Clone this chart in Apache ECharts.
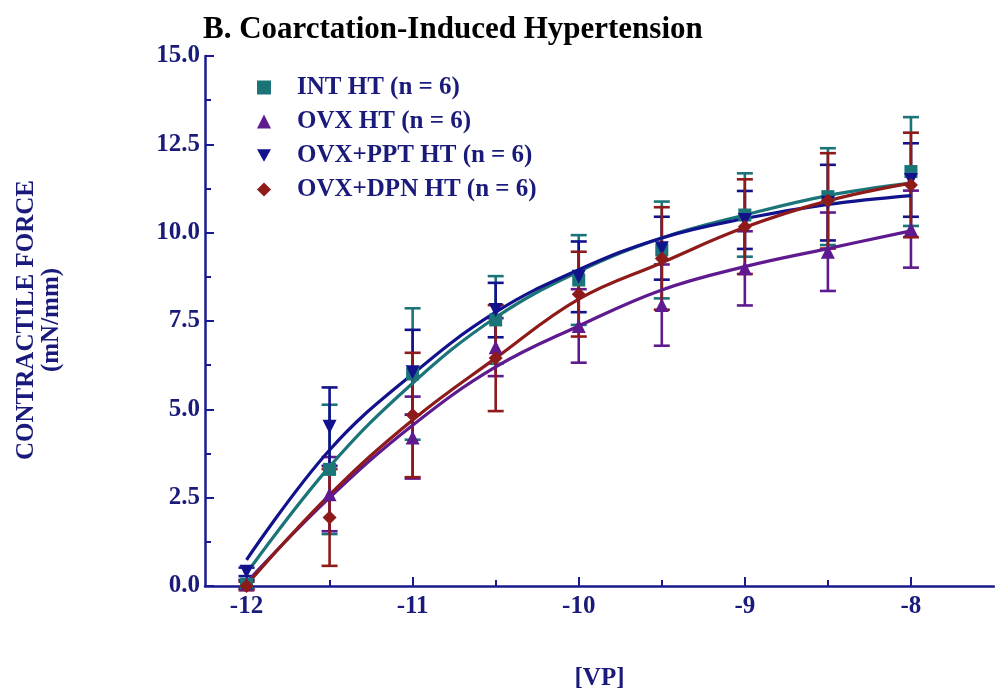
<!DOCTYPE html>
<html><head><meta charset="utf-8">
<script src="https://cdn.jsdelivr.net/npm/echarts@6/dist/echarts.min.js"></script>
<style>html,body{margin:0;padding:0;background:#fff}#c{width:995px;height:694px}</style>
</head><body><div id="c"></div>
<script>
// ---- data ----
const xValues = [-12, -11.5, -11, -10.5, -10, -9.5, -9, -8.5, -8];
const xMajorTicks = [-12, -11, -10, -9, -8];
const xMinorTicks = [-11.5, -10.5, -9.5, -8.5];

const intMean = [0.05, 3.3, 6.0, 7.53, 8.66, 9.51, 10.5, 11.02, 11.73];
const intSem  = [0.12, 1.83, 1.86, 1.24, 1.27, 1.37, 1.18, 1.37, 1.54];
const intFit  = [0.36, 3.38, 5.74, 7.6, 8.9, 9.85, 10.5, 11.05, 11.4];

const ovxMean = [0.05, 2.6, 4.2, 6.76, 7.36, 7.95, 8.99, 9.46, 10.1];
const ovxSem  = [0.12, 1.05, 1.16, 0.82, 1.04, 1.15, 1.05, 1.11, 1.09];
const ovxFit  = [0.1, 2.5, 4.55, 6.2, 7.36, 8.38, 9.04, 9.55, 10.05];

const pptMean = [0.4, 4.51, 6.05, 7.81, 8.75, 9.56, 10.36, 10.85, 11.49];
const pptSem  = [0.12, 1.11, 1.2, 0.77, 1.0, 0.89, 0.82, 1.07, 1.04];
const pptFit  = [0.74, 3.85, 6.0, 7.75, 8.95, 9.85, 10.4, 10.8, 11.05];

const dpnMean = [0.0, 1.94, 4.84, 6.45, 8.26, 9.27, 10.17, 10.9, 11.35];
const dpnSem  = [0.12, 1.37, 1.76, 1.5, 1.2, 1.45, 1.34, 1.35, 1.48];
const dpnFit  = [0.03, 2.58, 4.7, 6.45, 8.12, 9.15, 10.15, 10.9, 11.4];

const seriesNames = ['INT HT (n = 6)', 'OVX HT (n = 6)', 'OVX+PPT HT (n = 6)', 'OVX+DPN HT (n = 6)'];

// ---- styles ----
const FONT = '"Liberation Serif", "Times New Roman", serif';
const AXIS = '#1a1a8f';
const TXT = '#1a1a7a';
const C_INT = '#1b7478', C_OVX = '#5e1a8e', C_PPT = '#12128c', C_DPN = '#8e1a1a';

const groups = [
  {name: seriesNames[0], mean: intMean, sem: intSem, fit: intFit, color: C_INT, symbol: 'rect', rot: 0, size: 13},
  {name: seriesNames[1], mean: ovxMean, sem: ovxSem, fit: ovxFit, color: C_OVX, symbol: 'triangle', rot: 0, size: 14},
  {name: seriesNames[2], mean: pptMean, sem: pptSem, fit: pptFit, color: C_PPT, symbol: 'triangle', rot: 180, size: 14},
  {name: seriesNames[3], mean: dpnMean, sem: dpnSem, fit: dpnFit, color: C_DPN, symbol: 'diamond', rot: 0, size: 14}
];

function errRenderer(color) {
  return function (params, api) {
    const x = api.value(0), lo = api.value(1), hi = api.value(2);
    const pLo = api.coord([x, lo]), pHi = api.coord([x, hi]);
    const hw = 8;
    const style = {stroke: color, lineWidth: 2.6};
    return {type: 'group', children: [
      {type: 'line', shape: {x1: pLo[0], y1: pLo[1], x2: pHi[0], y2: pHi[1]}, style: style},
      {type: 'line', shape: {x1: pLo[0] - hw, y1: pLo[1], x2: pLo[0] + hw, y2: pLo[1]}, style: style},
      {type: 'line', shape: {x1: pHi[0] - hw, y1: pHi[1], x2: pHi[0] + hw, y2: pHi[1]}, style: style}
    ]};
  };
}

const series = [];
groups.forEach(g => {
  series.push({
    type: 'custom', name: g.name + ' err', xAxisIndex: 0, yAxisIndex: 0,
    renderItem: errRenderer(g.color), clip: false, z: 2,
    data: xValues.map((x, i) => [x, g.mean[i] - g.sem[i], g.mean[i] + g.sem[i]])
  });
});
groups.forEach(g => {
  series.push({
    type: 'line', name: g.name + ' fit', smooth: 0.4, symbol: 'none', z: 3,
    lineStyle: {color: g.color, width: 3.2},
    data: xValues.map((x, i) => [x, g.fit[i]])
  });
});
groups.forEach(g => {
  series.push({
    type: 'scatter', name: g.name, symbol: g.symbol, symbolRotate: g.rot, symbolSize: g.size, z: 4,
    itemStyle: {color: g.color, opacity: 1},
    data: xValues.map((x, i) => [x, g.mean[i]])
  });
});

const chart = echarts.init(document.getElementById('c'), null, {renderer: 'canvas'});
chart.setOption({
  animation: false,
  backgroundColor: '#fff',
  title: {
    text: 'B. Coarctation-Induced Hypertension', left: 198, top: 9,
    textStyle: {fontFamily: FONT, fontWeight: 'bold', fontSize: 31, color: '#000'}
  },
  legend: {
    orient: 'vertical', left: 252, top: 70, itemGap: 9, itemWidth: 14, itemHeight: 14,
    textStyle: {fontFamily: FONT, fontWeight: 'bold', fontSize: 25, color: TXT, padding: [0, 0, 0, 21]},
    itemStyle: {opacity: 1},
    data: [
      {name: seriesNames[0], icon: 'rect'},
      {name: seriesNames[1], icon: 'triangle'},
      {name: seriesNames[2], icon: 'path://M0,0L10,0L5,9Z'},
      {name: seriesNames[3], icon: 'diamond'}
    ]
  },
  grid: {left: 205, right: 1, top: 56, bottom: 108, containLabel: false, outerBoundsMode: 'none'},
  xAxis: [{
    type: 'value', min: -12.25, max: -7.5,
    name: '[VP]', nameLocation: 'middle', nameGap: 80,
    nameTextStyle: {fontFamily: FONT, fontWeight: 'bold', fontSize: 25, color: TXT},
    axisLine: {show: true, onZero: false, lineStyle: {color: AXIS, width: 2.5}},
    axisTick: {show: true, inside: true, length: 9, customValues: xMajorTicks, lineStyle: {color: AXIS, width: 2}},
    axisLabel: {show: true, customValues: xMajorTicks, margin: 8, fontFamily: FONT, fontWeight: 'bold', fontSize: 25, color: TXT,
      formatter: v => String(v)},
    splitLine: {show: false}
  }, {
    type: 'value', min: -12.25, max: -7.5, position: 'bottom',
    axisLine: {show: false},
    axisTick: {show: true, inside: true, length: 6, customValues: xMinorTicks, lineStyle: {color: AXIS, width: 2}},
    axisLabel: {show: false},
    splitLine: {show: false}
  }],
  yAxis: {
    type: 'value', min: 0, max: 15, interval: 2.5,
    axisLine: {show: true, lineStyle: {color: AXIS, width: 2.5}},
    axisTick: {show: true, inside: true, length: 9, lineStyle: {color: AXIS, width: 2}},
    minorTick: {show: true, splitNumber: 2, length: 6, lineStyle: {color: AXIS, width: 2}},
    axisLabel: {margin: 5, fontFamily: FONT, fontWeight: 'bold', fontSize: 25, color: TXT, formatter: v => v.toFixed(1)},
    splitLine: {show: false}
  },
  graphic: [
    {type: 'text', x: 27, y: 320, rotation: Math.PI / 2,
      style: {text: 'CONTRACTILE FORCE', align: 'center', verticalAlign: 'middle', font: 'bold 25px ' + FONT, fill: TXT}},
    {type: 'text', x: 52, y: 320, rotation: Math.PI / 2,
      style: {text: '(mN/mm)', align: 'center', verticalAlign: 'middle', font: 'bold 25px ' + FONT, fill: TXT}}
  ],
  series: series
});
</script>
</body></html>
